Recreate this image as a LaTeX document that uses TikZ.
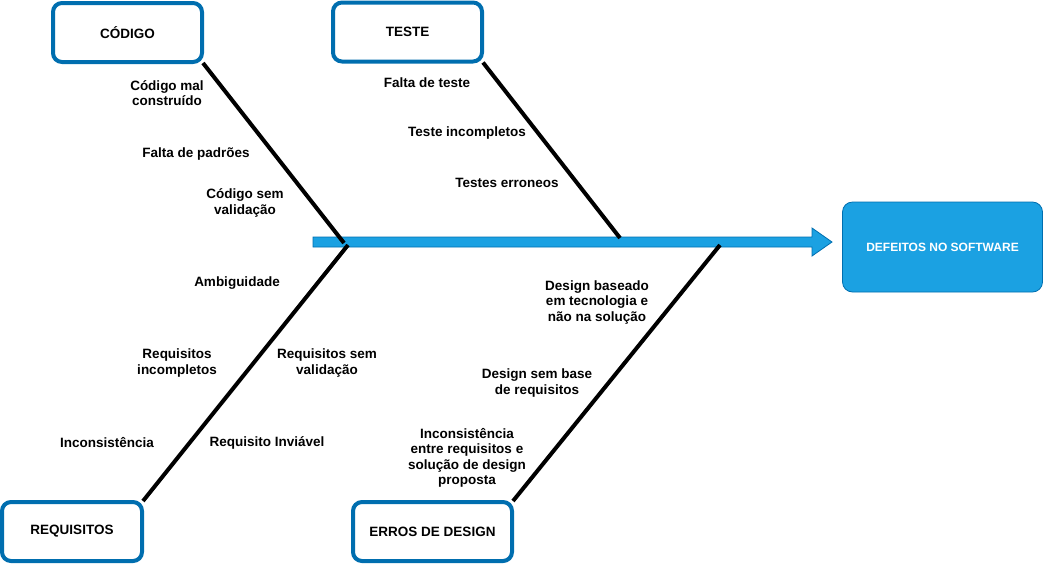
\documentclass[tikz,border=0pt]{standalone}
\usepackage{fontspec}
\setmainfont{Liberation Sans}
\usetikzlibrary{positioning}
\definecolor{boxblue}{HTML}{006EAF}
\definecolor{fillblue}{HTML}{1BA1E2}
\begin{document}
\begin{tikzpicture}[x=1pt,y=-1pt,
  catbox/.style={draw=boxblue, line width=4pt, rounded corners=9pt, fill=white,
    minimum height=59pt, font=\fontsize{13.5}{15.5}\selectfont\bfseries, inner sep=0pt},
  lbl/.style={align=center, font=\fontsize{13.5}{15.5}\selectfont\bfseries, inner sep=0pt},
  bone/.style={line width=4pt, black},
]
\useasboundingbox (0,0) rectangle (1043,566);
% main arrow
\draw[draw=boxblue, fill=fillblue, line width=0.8pt]
  (313,237) -- (812,237) -- (812,228) -- (832,242) -- (812,256) -- (812,247) -- (313,247) -- cycle;
\coordinate (spineL) at (313,242);
% bone anchor points on the spine
\coordinate (jc) at (344,243);
\coordinate (jt) at (620,238);
\coordinate (jr) at (348,245);
\coordinate (jd) at (720,245);
% category boxes
\node[catbox, minimum width=149pt] (codigo) at (127.5,32.5) {CÓDIGO};
\node[catbox, minimum width=149pt] (teste) at (407.5,32) {TESTE};
\node[catbox, minimum width=140pt] (req) at (72,531.5) {REQUISITOS};
\node[catbox, minimum width=159pt] (design) at (432.5,531.5) {ERROS DE DESIGN};
% effect box
\node[draw=boxblue, fill=fillblue, line width=0.8pt, rounded corners=10pt,
  minimum width=200pt, minimum height=90pt, text=white,
  font=\fontsize{12}{14}\selectfont\bfseries] (defeitos) at (942.5,247) {DEFEITOS NO SOFTWARE};
% bones
\draw[bone] (codigo.south east) ++(-1,-1) coordinate (c0) -- (jc);
\draw[bone] (teste.south east) ++(-1,-1) coordinate (t0) -- (jt);
\draw[bone] (req.north east) ++(-1,1) coordinate (r0) -- (jr);
\draw[bone] (design.north east) ++(-1,1) coordinate (d0) -- (jd);
% labels
\node[lbl] (l1) at (167,93) {Código mal\\construído};
\node[lbl] (l2) at (196,154) {Falta de padrões};
\node[lbl] (l3) at (245,203) {Código sem\\validação};
\node[lbl] (l4) at (427,83) {Falta de teste};
\node[lbl] (l5) at (467,133) {Teste incompletos};
\node[lbl] (l6) at (507,183) {Testes erroneos};
\node[lbl] (l7) at (237,283) {Ambiguidade};
\node[lbl] (l8) at (177,363) {Requisitos\\incompletos};
\node[lbl] (l9) at (327,363) {Requisitos sem\\validação};
\node[lbl] (l10) at (107,443) {Inconsistência};
\node[lbl] (l11) at (267,443) {Requisito Inviável};
\node[lbl] (l12) at (597,302) {Design baseado\\em tecnologia e\\não na solução};
\node[lbl] (l13) at (537,383) {Design sem base\\de requisitos};
\node[lbl] (l14) at (467,458) {Inconsistência\\entre requisitos e\\solução de design\\proposta};
\end{tikzpicture}
\end{document}
